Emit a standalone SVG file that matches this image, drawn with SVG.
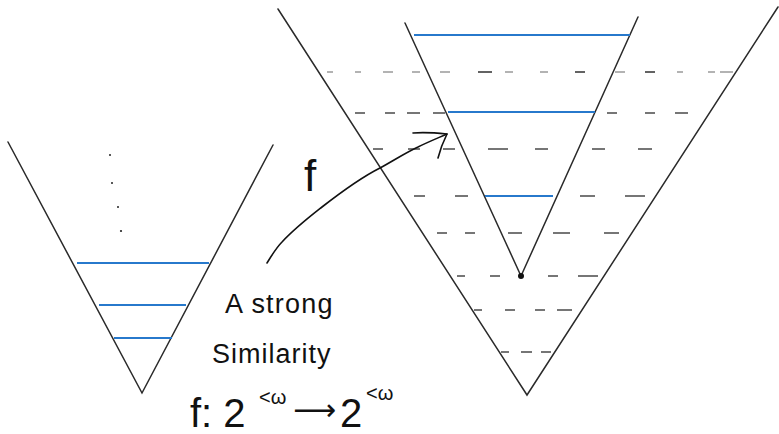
<svg xmlns="http://www.w3.org/2000/svg" width="779" height="434" viewBox="0 0 779 434">
<defs>
<style>
.edge{fill:none;stroke:#2a2a2a;stroke-width:1.5;stroke-linecap:round}
.blue{fill:none;stroke:#2779cc;stroke-width:1.8}
.dash{fill:none;stroke:#4a4a4a;stroke-width:1.6;stroke-linecap:butt}
.dashl{fill:none;stroke:#9a9a9a;stroke-width:1.4}
.hand{font-family:"Liberation Sans","DejaVu Sans",sans-serif;fill:#111;font-weight:normal}
.ink{fill:none;stroke:#111;stroke-width:1.6;stroke-linecap:round;stroke-linejoin:round}
</style>
</defs>
<rect width="779" height="434" fill="#ffffff"/>

<g id="left-tree">
<path class="edge" d="M8,142 L142,393 L273,145"/>
<line class="blue" x1="77" y1="263" x2="209" y2="263"/>
<line class="blue" x1="99" y1="305" x2="186" y2="305"/>
<line class="blue" x1="114" y1="338" x2="172" y2="338"/>
<g fill="#222">
<circle cx="110" cy="155" r="1"/>
<circle cx="112" cy="183" r="1"/>
<circle cx="118" cy="207" r="1"/>
<circle cx="121" cy="231" r="1.1"/>
</g>
</g>

<g id="big-tree">
<path class="edge" d="M278,9 L527,395 L778,7"/>
</g>

<g id="levels">
<path class="dashl" d="M327,72h6 M355,72h6 M383,72h10 M412,72h8 M440,72h10 M478,72h14 M505,72h8 M540,72h8 M575,72h10 M615,72h10 M645,72h10 M677,72h6 M708,72h7 M720,72h13"/>
<path class="dash" d="M478,72h14 M575,72h10 M645,72h10"/>
<path class="dash" d="M355,113h10 M385,113h10 M407,113h13 M433,113h12 M607,113h10 M645,113h10 M675,113h13"/>
<path class="dash" d="M373,149h10 M408,149h12 M443,149h12 M488,149h20 M535,149h13 M592,149h13 M638,149h14"/>
<path class="dash" d="M414,196h11 M455,196h13 M580,196h15 M625,196h20"/>
<path class="dash" d="M437,233h10 M465,233h10 M508,233h14 M553,233h17 M604,233h15"/>
<path class="dash" d="M457,276h8 M490,276h10 M548,276h10 M578,276h20"/>
<path class="dash" d="M474,310h8 M505,310h10 M535,310h10 M557,310h15"/>
<path class="dash" d="M501,352h8 M521,352h11 M541,352h10"/>
</g>

<g id="inner-tree">
<path class="edge" d="M405,23 L521,276 L638,17"/>
<line class="blue" x1="414" y1="35" x2="630" y2="35"/>
<line class="blue" x1="448" y1="112" x2="595" y2="112"/>
<line class="blue" x1="485" y1="196" x2="553" y2="196"/>
<circle cx="521" cy="276" r="3" fill="#111"/>
</g>

<g id="connectors">
<path class="ink" d="M267,263 C272,255 276,248 282,242 C295,228 308,218 322,207 C340,193 360,178 380,168 C393,161 405,153 418,147 C428,142 438,138 447,134"/>
<path class="ink" d="M413,133 C425,132 437,133 447,134 C443,142 440,150 438,158"/>
</g>

<g id="labels">
<text class="hand" x="304" y="191" font-size="44">f</text>
<text class="hand" x="225" y="313" font-size="27" letter-spacing="1.2">A strong</text>
<text class="hand" x="212" y="363" font-size="27" letter-spacing="1">Similarity</text>
<text class="hand" x="190" y="427" font-size="40">f: 2</text>
<text class="hand" x="259" y="404" font-size="20">&lt;ω</text>
<text class="hand" x="293" y="420" font-size="30">⟶</text>
<text class="hand" x="340" y="427" font-size="40">2</text>
<text class="hand" x="366" y="400" font-size="20">&lt;ω</text>
</g>
</svg>
